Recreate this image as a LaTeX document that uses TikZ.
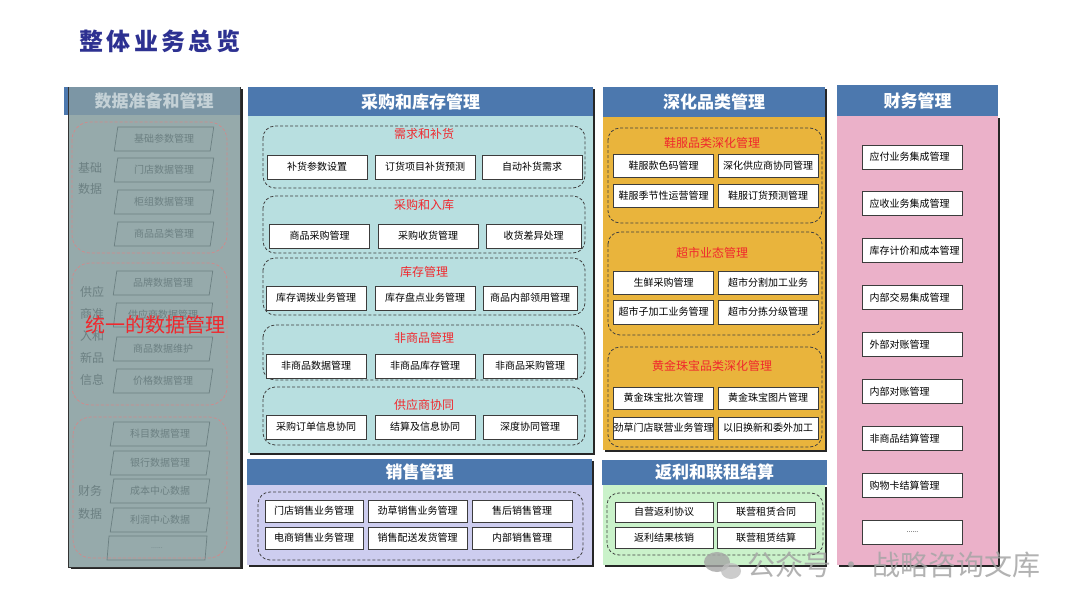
\documentclass[tikz,border=0pt]{standalone}
\usepackage{fontspec}
\setmainfont{Noto Sans CJK SC}
\definecolor{hdrblue}{RGB}{76,120,174}
\definecolor{titleblue}{RGB}{45,49,145}
\definecolor{procteal}{RGB}{184,223,224}
\definecolor{salelav}{RGB}{205,205,239}
\definecolor{deepgold}{RGB}{233,180,60}
\definecolor{rebgreen}{RGB}{202,242,202}
\definecolor{finpink}{RGB}{235,177,201}
\definecolor{subred}{RGB}{240,40,45}
\definecolor{leftbody}{RGB}{150,170,171}
\definecolor{lefthdr}{RGB}{124,150,165}
\definecolor{lefttxt}{RGB}{196,209,214}
\definecolor{leftitem}{RGB}{108,128,130}
\definecolor{leftdash}{RGB}{212,136,138}
\definecolor{boxline}{RGB}{60,60,60}
\definecolor{wmgray}{RGB}{165,165,165}
\usetikzlibrary{shapes.geometric}

\begin{document}
\begin{tikzpicture}[x=1pt,y=-1pt,
  hdr/.style={fill=hdrblue,text=white,font=\fontsize{17}{20}\selectfont\bfseries,inner sep=0pt},
  item/.style={draw=boxline,line width=0.9pt,fill=white,minimum width=100pt,minimum height=24pt,inner sep=0pt,font=\fontsize{10}{12}\selectfont},
  fitem/.style={item,text width=86pt,align=left,inner xsep=7pt},
  grp/.style={draw=black!75,line width=0.8pt,dash pattern=on 3pt off 2pt,rounded corners=12pt},
  sub/.style={text=subred,font=\fontsize{12}{14}\selectfont},
  shadowbox/.style={fill=black!85},
  lgrp/.style={draw=leftdash,line width=0.7pt,dash pattern=on 3pt off 2pt,rounded corners=18pt},
  litem/.style={trapezium,trapezium left angle=76,trapezium right angle=104,trapezium stretches=true,
    draw=leftitem,line width=0.7pt,minimum width=100pt,minimum height=24pt,inner sep=0pt,
    text=leftitem,font=\fontsize{10}{12}\selectfont},
  llabel/.style={text=leftitem,font=\fontsize{12}{21}\selectfont,align=center}]
  \useasboundingbox (0,0) rectangle (1080,608);
  \fill[white] (0,0) rectangle (1080,608);
  \node[anchor=west,text=titleblue,font=\fontsize{24}{28}\selectfont\bfseries\addfontfeature{LetterSpace=14}] (title) at (76,41) {整体业务总览};

  % Panel 1: data preparation (greyed out)
  \fill[hdrblue] (64,87) rectangle (69,115);
  \fill[shadowbox] (71,89) rectangle (243,569);
  \fill[leftbody,draw=black!80,line width=0.8pt] (68,87) rectangle (240,567);
  \node[hdr,fill=lefthdr,text=lefttxt,minimum width=171pt,minimum height=28pt] (hdata) at (154,101) {数据准备和管理};
  \draw[lgrp] (72,122) rectangle (227,253);
  \draw[lgrp] (72,263) rectangle (227,405);
  \draw[lgrp] (73,417) rectangle (227,558);
  \node[llabel] (lg1) at (90,178) {基础\\数据};
  \node[llabel,font=\fontsize{12}{22}\selectfont] (lg2) at (92,336) {供应\\商准\\入和\\新品\\信息};
  \node[llabel,font=\fontsize{12}{23}\selectfont] (lg3) at (90,502) {财务\\数据};
  \node[litem] (d1) at (164,139) {基础参数管理};
  \node[litem] (d2) at (164,170) {门店数据管理};
  \node[litem] (d3) at (164,202) {柜组数据管理};
  \node[litem] (d4) at (164,234) {商品品类管理};
  \node[litem] (d5) at (163,283) {品牌数据管理};
  \node[litem] (d6) at (163,315) {供应商数据管理};
  \node[litem] (d7) at (163,349) {商品数据维护};
  \node[litem] (d8) at (163,381) {价格数据管理};
  \node[litem] (d9) at (160,434) {科目数据管理};
  \node[litem] (d10) at (160,463) {银行数据管理};
  \node[litem] (d11) at (160,491) {成本中心数据};
  \node[litem] (d12) at (160,520) {利润中心数据};
  \node[litem,font=\fontsize{7}{8}\selectfont] (d13) at (157,548) {......};
  \node[text=subred,font=\fontsize{20}{24}\selectfont] (unify) at (155,325) {统一的数据管理};

  % Panel 2: purchasing and stock
  \fill[shadowbox] (250,89) rectangle (595,455);
  \fill[procteal] (248,87) rectangle (593,453);
  \node[hdr,minimum width=345pt,minimum height=29pt] (hproc) at (420.5,101.5) {采购和库存管理};
  \draw[grp] (263,126) rectangle (585,188);
  \node[sub] (s1) at (424,134) {需求和补货};
  \node[item] (p11) at (317,167) {补货参数设置};
  \node[item] (p12) at (425,167) {订货项目补货预测};
  \node[item] (p13) at (532,167) {自动补货需求};
  \draw[grp] (263,196) rectangle (585,253);
  \node[sub] (s2) at (424,205) {采购和入库};
  \node[item] (p21) at (319.5,236) {商品采购管理};
  \node[item] (p22) at (428,236) {采购收货管理};
  \node[item,minimum width=95pt] (p23) at (533.5,236) {收货差异处理};
  \draw[grp] (263,258) rectangle (585,315);
  \node[sub] (s3) at (424,272) {库存管理};
  \node[item] (p31) at (316,298) {库存调拨业务管理};
  \node[item] (p32) at (425,298) {库存盘点业务管理};
  \node[item,minimum width=94pt] (p33) at (530,298) {商品内部领用管理};
  \draw[grp] (263,325) rectangle (585,380);
  \node[sub] (s4) at (424,338) {非商品管理};
  \node[item] (p41) at (316,366) {非商品数据管理};
  \node[item] (p42) at (425,366) {非商品库存管理};
  \node[item,minimum width=94pt] (p43) at (530,366) {非商品采购管理};
  \draw[grp] (263,387) rectangle (585,445);
  \node[sub] (s5) at (424,405) {供应商协同};
  \node[item] (p51) at (316,427) {采购订单信息协同};
  \node[item] (p52) at (425,427) {结算及信息协同};
  \node[item,minimum width=94pt] (p53) at (530,427) {深度协同管理};

  % Panel 3: sales
  \fill[shadowbox] (249,461) rectangle (594,567);
  \fill[salelav] (247,459) rectangle (592,565);
  \node[hdr,minimum width=345pt,minimum height=26pt] (hsale) at (419.5,472) {销售管理};
  \draw[grp] (258,492) rectangle (583,560);
  \node[item,minimum width=98pt,minimum height=22pt] (q11) at (314,511) {门店销售业务管理};
  \node[item,minimum width=99pt,minimum height=22pt] (q12) at (417.5,511) {劲草销售业务管理};
  \node[item,minimum width=100pt,minimum height=22pt] (q13) at (522,511) {售后销售管理};
  \node[item,minimum width=98pt,minimum height=22pt] (q21) at (314,538) {电商销售业务管理};
  \node[item,minimum width=99pt,minimum height=22pt] (q22) at (417.5,538) {销售配送发货管理};
  \node[item,minimum width=100pt,minimum height=22pt] (q23) at (522,538) {内部销售管理};

  % Panel 4: category deepening
  \fill[shadowbox] (605,89) rectangle (827,452);
  \fill[deepgold] (603,87) rectangle (825,450);
  \node[hdr,minimum width=222pt,minimum height=30pt] (hdeep) at (714,102) {深化品类管理};
  \draw[grp] (608,128) rectangle (822,223);
  \node[sub] (c1) at (712,143) {鞋服品类深化管理};
  \node[item,minimum height=23pt] (c11) at (663.5,166) {鞋服款色码管理};
  \node[item,minimum height=23pt] (c12) at (768,166) {深化供应商协同管理};
  \node[item,minimum height=23pt] (c21) at (663.5,196) {鞋服季节性运营管理};
  \node[item,minimum height=23pt] (c22) at (768,196) {鞋服订货预测管理};
  \draw[grp] (608,232) rectangle (822,335);
  \node[sub] (c2) at (712,253) {超市业态管理};
  \node[item,minimum height=23pt] (c31) at (663.5,283) {生鲜采购管理};
  \node[item,minimum height=23pt] (c32) at (768,283) {超市分割加工业务};
  \node[item,minimum height=24pt] (c41) at (663.5,312) {超市子加工业务管理};
  \node[item,minimum height=24pt] (c42) at (768,312) {超市分拣分级管理};
  \draw[grp] (608,347) rectangle (822,447);
  \node[sub] (c3) at (712,366) {黄金珠宝品类深化管理};
  \node[item,minimum height=22pt] (c51) at (663.5,398) {黄金珠宝批次管理};
  \node[item,minimum height=22pt] (c52) at (768,398) {黄金珠宝图片管理};
  \node[item,minimum height=22pt] (c61) at (663.5,428) {劲草门店联营业务管理};
  \node[item,minimum height=22pt] (c62) at (768,428) {以旧换新和委外加工};

  % Panel 5: rebates and joint rent
  \fill[shadowbox] (605,487) rectangle (827,567);
  \fill[rebgreen] (603,485) rectangle (825,565);
  \node[hdr,minimum width=225pt,minimum height=25pt] (hreb) at (714.5,472.5) {返利和联租结算};
  \draw[grp] (607,493) rectangle (823,555);
  \node[item,minimum width=98pt,minimum height=20pt] (r11) at (664,512) {自营返利协议};
  \node[item,minimum width=98pt,minimum height=20pt] (r12) at (766,512) {联营租赁合同};
  \node[item,minimum width=98pt,minimum height=21pt] (r21) at (664,537.5) {返利结果核销};
  \node[item,minimum width=98pt,minimum height=21pt] (r22) at (766,537.5) {联营租赁结算};

  % Panel 6: finance
  \fill[shadowbox] (839,118) rectangle (1000,567);
  \fill[finpink] (837,116) rectangle (998,565);
  \node[hdr,minimum width=161pt,minimum height=31pt] (hfin) at (917.5,100.5) {财务管理};
  \foreach \t [count=\i] in {应付业务集成管理,应收业务集成管理,库存计价和成本管理,内部交易集成管理,
      外部对账管理,内部对账管理,非商品结算管理,购物卡结算管理}
    \node[fitem] (f\i) at (912.5,{157+46.9*(\i-1)}) {\t};
  \node[item] (f9) at (912.5,532) {\fontsize{7}{8}\selectfont ......};

  % watermark
  \fill[wmgray,opacity=0.8] (717,562) ellipse (13 and 10);
  \fill[wmgray!70,opacity=0.8] (731,571) ellipse (10 and 8);
  \node[anchor=west,text=wmgray,opacity=0.85,font=\fontsize{28}{30}\selectfont] (wm) at (744,565) {公众号 · 战略咨询文库};
\end{tikzpicture}
\end{document}
